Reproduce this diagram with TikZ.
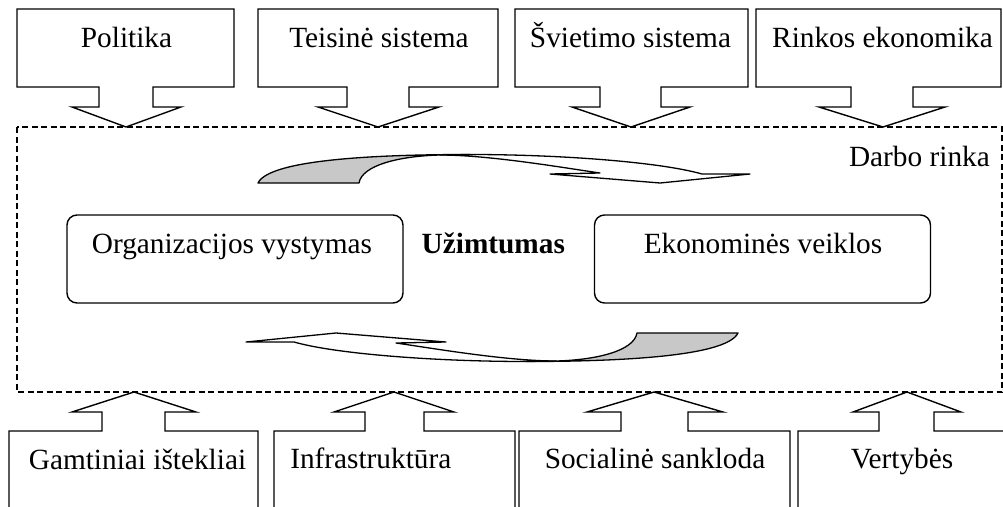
\documentclass[tikz,border=0pt]{standalone}
\usepackage{fontspec}
\setmainfont{Liberation Serif}
\definecolor{backside}{RGB}{200,200,200}

% Down-pointing callout: box L..R, stem sL..sR, wings wL..wR, tip x
\newcommand\calloutdown[7]{%
  \draw[outline] (#1,9) -- (#2,9) -- (#2,87) -- (#4,87) -- (#4,107) -- (#6,107)
    -- (#7,127) -- (#5,107) -- (#3,107) -- (#3,87) -- (#1,87) -- cycle;}
% Up-pointing callout, box running past the lower edge
\newcommand\calloutup[7]{%
  \draw[outline] (#1,530) -- (#1,431) -- (#3,431) -- (#3,412) -- (#5,412)
    -- (#7,392) -- (#6,412) -- (#4,412) -- (#4,431) -- (#2,431) -- (#2,530) -- cycle;}

\tikzset{
  outline/.style={line width=1.4pt, fill=white, line join=miter},
  lbl/.style={inner sep=0pt, anchor=base, font=\fontsize{29.3}{34}\selectfont},
  roundbox/.style={draw, line width=1.4pt, rounded corners=10pt,
    minimum width=336pt, minimum height=88pt, inner sep=0pt},
  band/.style={line width=1.3pt, line join=round},
}

\begin{document}
\begin{tikzpicture}[x=1pt, y=-1pt]
\useasboundingbox (0,0) rectangle (1003,506);
\clip (0,0) rectangle (1003,506);

% labour market frame
\draw[line width=1.2pt, dash pattern=on 6pt off 3.5pt] (17,127) rectangle (1002,392);
\node[lbl, anchor=base east] (darbo) at (990,166) {Darbo rinka};

% factors acting from above
\calloutdown{17}{234}{99}{153}{72}{181}{126}
\calloutdown{258}{498}{347}{409}{318}{439}{378}
\calloutdown{515}{748}{600}{661}{572}{690}{631}
\calloutdown{756}{1001}{851}{913}{819}{945}{883}
\node[lbl] (politika) at (126.5,47) {Politika};
\node[lbl] (teisine) at (379,47) {Teisinė sistema};
\node[lbl] (svietimo) at (630.5,47) {Švietimo sistema};
\node[lbl] (rinkos) at (882.5,47) {Rinkos ekonomika};

% factors acting from below
\calloutup{9}{258}{102}{165}{72}{196}{134}
\calloutup{274}{515}{365}{424}{334}{454}{394}
\calloutup{519}{790}{621}{688}{587}{723}{654}
\calloutup{798}{1030}{879}{934}{853}{961}{907}
\node[lbl] (gamtiniai) at (137.5,469) {Gamtiniai ištekliai};
\node[lbl] (infra) at (370.8,468) {Infrastruktūra};
\node[lbl] (social) at (655,468) {Socialinė sankloda};
\node[lbl] (vertybes) at (902,468) {Vertybės};

% the two sides of employment
\node[roundbox] (org) at (235,259) {};
\node[roundbox] (eko) at (762.5,259) {};
\node[lbl] (orgtext) at (232,253) {Organizacijos vystymas};
\node[lbl] (ekotext) at (763,253) {Ekonominės veiklos};
\node[lbl, font=\fontsize{29.3}{34}\selectfont\bfseries] (uzimt) at (493.3,253) {Užimtumas};

% circular flow: upper arrow, and the same arrow turned half round below
\foreach \turn in {0,180}{
  \begin{scope}[rotate around={\turn:(498,258)}]
    \draw[band, fill=backside] (258,183) .. controls (270,158) and (390,154.5) .. (470,154.5)
      -- (440,155) .. controls (400,156) and (362,165) .. (359,183) -- cycle;
    \draw[band, fill=white] (440,155) .. controls (490,155) and (565,168) .. (600,173)
      -- (550,174) -- (660,183) -- (750,174) -- (702,174)
      .. controls (660,162) and (560,154.5) .. (470,154.5) -- cycle;
  \end{scope}
}
\end{tikzpicture}
\end{document}
